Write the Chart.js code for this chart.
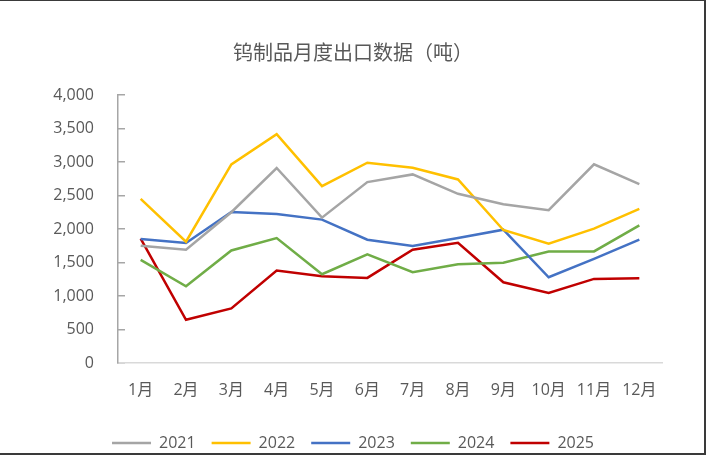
<!DOCTYPE html>
<html>
<head>
<meta charset="utf-8">
<script src="https://cdn.jsdelivr.net/npm/chart.js@4.4.0/dist/chart.umd.min.js"></script>
<style>
  html, body { margin: 0; padding: 0; background: #fff; }
  #wrap { position: relative; width: 706px; height: 455px; }
  #frame { position: absolute; left: 0; top: 0; width: 706px; height: 455px; box-sizing: border-box;
           border-top: 1px solid #3a3a3a; border-right: 2px solid #3a3a3a; border-bottom: 2px solid #3a3a3a; pointer-events: none; }
</style>
</head>
<body>
<div id="wrap">
  <canvas id="c" width="706" height="455"></canvas>
  <div id="frame"></div>
</div>
<script>
const months = ['1月','2月','3月','4月','5月','6月','7月','8月','9月','10月','11月','12月'];
const seriesNames = ['2021','2022','2023','2024','2025'];
const v2021 = [1750, 1690, 2250, 2910, 2170, 2700, 2815, 2525, 2370, 2280, 2965, 2670];
const v2022 = [2450, 1810, 2965, 3415, 2640, 2990, 2915, 2740, 1985, 1780, 2005, 2300];
const v2023 = [1850, 1790, 2255, 2225, 2140, 1840, 1745, 1865, 1990, 1280, 1555, 1840];
const v2024 = [1540, 1145, 1680, 1865, 1325, 1620, 1355, 1475, 1495, 1665, 1665, 2055];
const v2025 = [1855, 645, 815, 1380, 1295, 1270, 1690, 1795, 1205, 1045, 1255, 1265];
const colors = ['#a5a5a5', '#ffc000', '#4472c4', '#70ad47', '#c00000'];
const allValues = [v2021, v2022, v2023, v2024, v2025];

const FONT = '"Noto Sans CJK SC", "Noto Sans", sans-serif';
const NUMFONT = '"Open Sans", "Noto Sans CJK SC", sans-serif';
const TXT = '#595959';

new Chart(document.getElementById('c'), {
  type: 'line',
  data: {
    labels: months,
    datasets: allValues.map((vals, i) => ({
      label: seriesNames[i],
      data: vals,
      borderColor: colors[i],
      backgroundColor: colors[i],
      borderWidth: 2.5,
      pointRadius: 0,
      pointHoverRadius: 0,
      tension: 0,
      fill: false,
      pointStyle: 'line'
    }))
  },
  options: {
    responsive: false,
    animation: false,
    layout: { padding: 0 },
    plugins: {
      tooltip: { enabled: false },
      title: {
        display: true,
        text: '钨制品月度出口数据（吨）',
        color: TXT,
        font: { family: FONT, size: 20, weight: 'normal', lineHeight: 1.2 },
        padding: { top: 40, bottom: 31 }
      },
      legend: {
        position: 'bottom',
        maxHeight: 36,
        labels: {
          usePointStyle: true,
          pointStyleWidth: 39,
          boxHeight: 16,
          padding: 16,
          color: TXT,
          font: { family: NUMFONT, size: 16 }
        }
      }
    },
    scales: {
      x: {
        offset: true,
        grid: { display: false, drawTicks: false },
        border: { display: true, color: '#d9d9d9', width: 1.5 },
        ticks: { color: TXT, font: { family: NUMFONT, size: 16 }, padding: 18, maxRotation: 0, autoSkip: false },
        afterFit: (s) => { s.height = 56; }
      },
      y: {
        min: 0, max: 4000,
        grid: { display: true, drawOnChartArea: false, drawTicks: true, tickLength: -7, color: '#a6a6a6', lineWidth: 1.5 },
        border: { display: true, color: '#a6a6a6', width: 1.5 },
        ticks: { stepSize: 500, color: TXT, font: { family: NUMFONT, size: 16 }, padding: 31 },
        afterFit: (s) => { s.width = 118; }
      },
      yRight: {
        position: 'right',
        display: true,
        grid: { display: false, drawTicks: false },
        border: { display: false },
        ticks: { display: false },
        afterFit: (s) => { s.width = 44; }
      }
    }
  }
});
</script>
</body>
</html>
